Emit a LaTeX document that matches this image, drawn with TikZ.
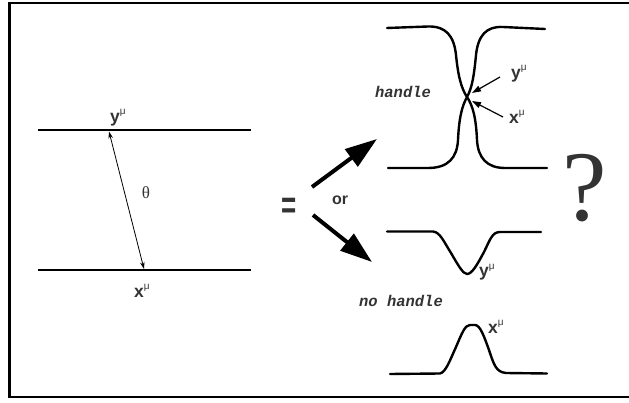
\documentclass[tikz,border=0pt]{standalone}
\usepackage{fontspec}
\setmainfont{Liberation Sans}
\newfontfamily\qfont{Liberation Serif}
\newfontfamily\cfont{Liberation Mono}
\usetikzlibrary{arrows.meta}
\definecolor{ink}{HTML}{333333}
\newcommand{\mylbl}[1]{{\bfseries #1}\raisebox{8pt}{\fontsize{10}{10}\selectfont μ}}
\tikzset{
  curve/.style={line width=2.4pt, black, line cap=round, line join=round},
  lbl/.style={text=ink, font=\fontsize{17.5}{17.5}\selectfont, inner sep=0pt, anchor=base west},
  word/.style={text=ink, font=\cfont\bfseries\itshape\fontsize{15.5}{15.5}\selectfont, inner sep=0pt},
  bigarrow/.style={line width=4pt, black, -{Triangle[length=32pt,width=21pt]}},
  pointer/.style={line width=1.2pt, black, -{Triangle[length=9pt,width=6pt]}},
  frameline/.style={black}
}
\begin{document}
\begin{tikzpicture}[x=1pt,y=-1pt]
\useasboundingbox (0,0) rectangle (629,403);
\clip (0,0) rectangle (629,403);
% frame
\draw[frameline, line width=3pt] (9.5,2) -- (9.5,398);
\draw[frameline, line width=2pt] (8,3) -- (640,3);
\draw[frameline, line width=2pt] (8,397) -- (640,397);

% left diagram
\coordinate (tl) at (38,130); \coordinate (tr) at (251,130);
\coordinate (bl) at (38,270); \coordinate (br) at (251,270);
\draw[curve, line cap=butt] (tl) -- (tr);
\draw[curve, line cap=butt] (bl) -- (br);
\coordinate (ya) at (109,131.5); \coordinate (xa) at (144,269);
\draw[line width=0.8pt, {Stealth[length=7pt,width=4.5pt]}-{Stealth[length=7pt,width=4.5pt]}] (ya) -- (xa);
\node[lbl] (ylab) at (110,123) {\mylbl{y}};
\node[lbl] (xlab) at (134,298) {\mylbl{x}};
\node[text=ink, font=\qfont\fontsize{17}{17}\selectfont, inner sep=0pt] (theta) at (146,193) {θ};

% equals and or
\node[text=ink, font=\bfseries\fontsize{26}{26}\selectfont, inner sep=0pt, yscale=1.5] (eq) at (289,208) {=};
\node[text=ink, font=\bfseries\fontsize{16}{16}\selectfont, inner sep=0pt] (or) at (340,200) {or};
\coordinate (ua0) at (312,187); \coordinate (ua1) at (377,139);
\coordinate (la0) at (313,215); \coordinate (la1) at (372,262);
\draw[bigarrow] (ua0) -- (ua1);
\draw[bigarrow] (la0) -- (la1);

% handle
\coordinate (pinch) at (467,97);
\draw[curve] (387,28) -- (428,26.5) .. controls (446,26) and (454,36) .. (456,55)
  .. controls (458,75) and (461,88) .. (pinch)
  .. controls (462,106) and (459,118) .. (458,140)
  .. controls (457,158) and (448,168) .. (428,168) -- (388,168);
\draw[curve] (545,29) -- (503,27) .. controls (486,26) and (478,36) .. (476,55)
  .. controls (474,76) and (472,88) .. (pinch)
  .. controls (473,106) and (476,118) .. (477,140)
  .. controls (478,158) and (487,168) .. (505,168) -- (547,168);
\node[word] (handle) at (403,92) {handle};
\node[lbl] (hy) at (511,79) {\mylbl{y}};
\node[lbl] (hx) at (509,124) {\mylbl{x}};
\coordinate (hya) at (500,77); \coordinate (hyt) at (472,93);
\coordinate (hxa) at (503,117); \coordinate (hxt) at (472,101);
\draw[pointer] (hya) -- (hyt);
\draw[pointer] (hxa) -- (hxt);

% question mark
\node[text=ink, font=\qfont\fontsize{100}{100}\selectfont, inner sep=0pt] (q) at (585,188) {?};

% no handle
\draw[curve] (387,231.5) -- (433,231.5) .. controls (440,232) and (444,242) .. (451,253)
  .. controls (458,265) and (463,274) .. (467,274)
  .. controls (472,274) and (477,265) .. (484,252)
  .. controls (490,240) and (492,232) .. (500,232) -- (541,232);
\node[lbl] (ny) at (479,277) {\mylbl{y}};
\node[word] (nohandle) at (401,301) {no handle};
\draw[curve] (390,374) -- (440,373.5) .. controls (446,372) and (450,360) .. (456,347)
  .. controls (462,333) and (465,325) .. (470,325) -- (475,325)
  .. controls (480,325) and (484,336) .. (489,350)
  .. controls (494,365) and (496,372) .. (506,373) -- (547,373.5);
\node[lbl] (nx) at (488,333) {\mylbl{x}};
\end{tikzpicture}
\end{document}
